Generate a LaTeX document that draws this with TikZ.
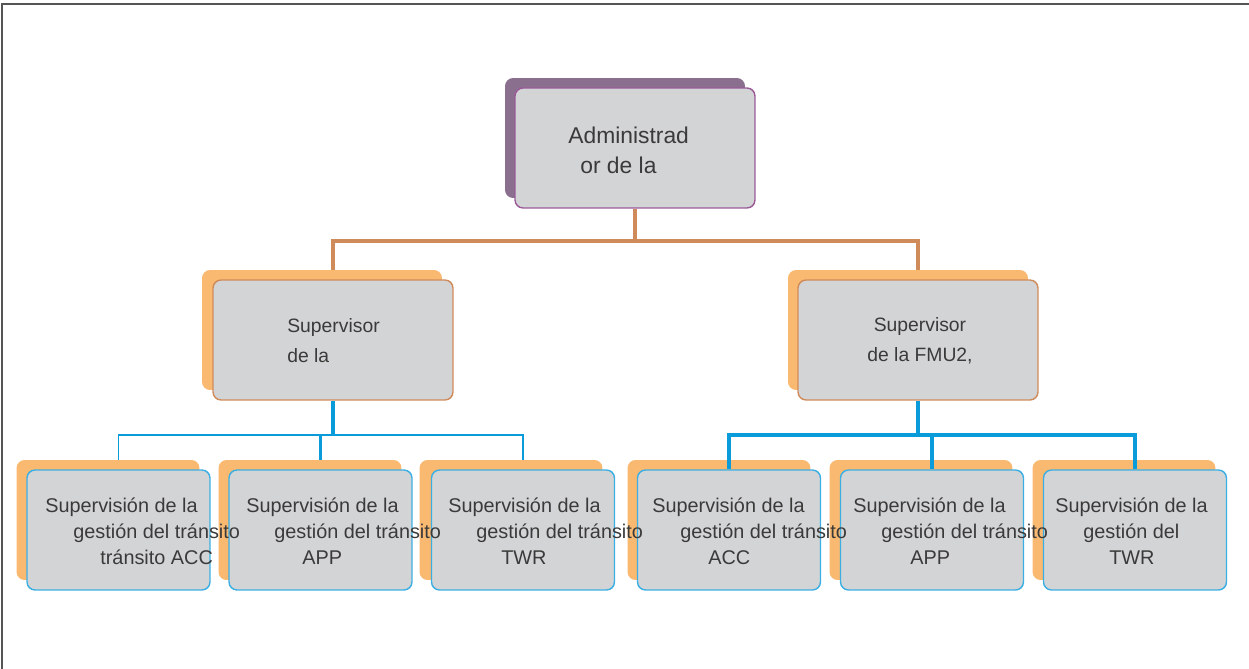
\documentclass[tikz,border=0pt]{standalone}
\usepackage{fontspec}
\setmainfont{Liberation Sans}
\usetikzlibrary{positioning}

\definecolor{framegray}{HTML}{555555}
\definecolor{textgray}{HTML}{3A3A3A}
\definecolor{boxgray}{HTML}{D3D4D6}
\definecolor{backpurple}{HTML}{8A708E}
\definecolor{edgepurple}{HTML}{9A5A98}
\definecolor{backorange}{HTML}{F9B970}
\definecolor{edgebrown}{HTML}{D08B5B}
\definecolor{lineblue}{HTML}{0A9BDB}
\definecolor{edgeblue}{HTML}{3BAFE3}

\tikzset{
  backbox/.style={rectangle,rounded corners=0.16cm,inner sep=0pt,minimum height=2.4cm},
  frontbox/.style={rectangle,rounded corners=0.16cm,inner sep=0pt,minimum height=2.4cm,
                   fill=boxgray,line width=0.8pt},
  bigsize/.style={minimum width=4.8cm},
  smallsize/.style={minimum width=3.66cm},
  txt/.style={inner sep=0pt,align=left,text=textgray},
  lowtxt/.style={txt,anchor=west,font=\fontsize{11.3}{14.7}\selectfont},
  brownline/.style={draw=edgebrown,line width=2pt},
  bluethick/.style={draw=lineblue,line width=2.3pt},
  bluemid/.style={draw=lineblue,line width=1.7pt},
  bluethin/.style={draw=lineblue,line width=1.1pt}
}

\begin{document}
\begin{tikzpicture}[x=0.02cm,y=-0.02cm]
  \useasboundingbox (0,0) rectangle (1249,669);
  \draw[framegray,line width=1.1pt] (2,669) -- (2,4) -- (1249,4); % marco
  % nivel 1
  \node[backbox,bigsize,fill=backpurple] (admback) at (625,138) {};
  \node[frontbox,bigsize,draw=edgepurple] (adm) at (635,148) {};
  % nivel 2
  \node[backbox,bigsize,fill=backorange] (suplback) at (322,330) {};
  \node[frontbox,bigsize,draw=edgebrown] (supl) at (333,340) {};
  \node[backbox,bigsize,fill=backorange] (suprback) at (908,330) {};
  \node[frontbox,bigsize,draw=edgebrown] (supr) at (918,340) {};
  % nivel 3, izquierda
  \node[backbox,smallsize,fill=backorange] (acclback) at (108,520) {};
  \node[frontbox,smallsize,draw=edgeblue] (accl) at (118.5,530) {};
  \node[backbox,smallsize,fill=backorange] (applback) at (310,520) {};
  \node[frontbox,smallsize,draw=edgeblue] (appl) at (320.5,530) {};
  \node[backbox,smallsize,fill=backorange] (twrlback) at (511,520) {};
  \node[frontbox,smallsize,draw=edgeblue] (twrl) at (523,530) {};
  % nivel 3, derecha
  \node[backbox,smallsize,fill=backorange] (accrback) at (719,520) {};
  \node[frontbox,smallsize,draw=edgeblue] (accr) at (729,530) {};
  \node[backbox,smallsize,fill=backorange] (apprback) at (921,520) {};
  \node[frontbox,smallsize,draw=edgeblue] (appr) at (932,530) {};
  \node[backbox,smallsize,fill=backorange] (twrrback) at (1124,520) {};
  \node[frontbox,smallsize,draw=edgeblue] (twrr) at (1135,530) {};
  % textos (encima de las cajas)
  \node[txt,anchor=west,font=\fontsize{13}{17}\selectfont] (admtxt) at (568,150)
       {Administrad\\\hspace*{0.24cm}or de la};
  \node[txt,anchor=west,font=\fontsize{11}{17}\selectfont] (supltxt) at (287,341)
       {Supervisor\\de la};
  \node[txt,align=center,font=\fontsize{11}{17}\selectfont] (suprtxt) at (920,341)
       {Supervisor\\de la FMU2,};
  \node[lowtxt] (accltxt) at (45,531)
       {Supervisión de la\\\hspace*{0.56cm}gestión del tránsito\\\hspace*{1.1cm}tránsito ACC};
  \node[lowtxt] (appltxt) at (246,531)
       {Supervisión de la\\\hspace*{0.56cm}gestión del tránsito\\\hspace*{1.12cm}APP};
  \node[lowtxt] (twrltxt) at (448,531)
       {Supervisión de la\\\hspace*{0.56cm}gestión del tránsito\\\hspace*{1.06cm}TWR};
  \node[lowtxt] (accrtxt) at (652,531)
       {Supervisión de la\\\hspace*{0.56cm}gestión del tránsito\\\hspace*{1.12cm}ACC};
  \node[lowtxt] (apprtxt) at (853,531)
       {Supervisión de la\\\hspace*{0.56cm}gestión del tránsito\\\hspace*{1.14cm}APP};
  \node[lowtxt] (twrrtxt) at (1055,531)
       {Supervisión de la\\\hspace*{0.56cm}gestión del\\\hspace*{1.08cm}TWR};
  % conectores
  \coordinate (admbus) at (635,241);
  \draw[brownline] (adm.south) -- (admbus);
  \draw[brownline] (supl.north |- suplback.north) |- (admbus) -| (supr.north |- suprback.north);
  \coordinate (suplbus) at (333,435);
  \draw[bluethick] (supl.south) -- (suplbus);
  \draw[bluethin] (accl.north |- acclback.north) |- (suplbus) -| (twrl.north |- twrlback.north);
  \draw[bluemid] (appl.north |- applback.north) -- (appl.north |- suplbus);
  \coordinate (suprbus) at (918,435);
  \draw[bluethick] (supr.south) -- (suprbus);
  \draw[bluethick] (accr.north) |- (suprbus) -| (twrr.north);
  \draw[bluethick] (appr.north) -- (appr.north |- suprbus);
\end{tikzpicture}
\end{document}
